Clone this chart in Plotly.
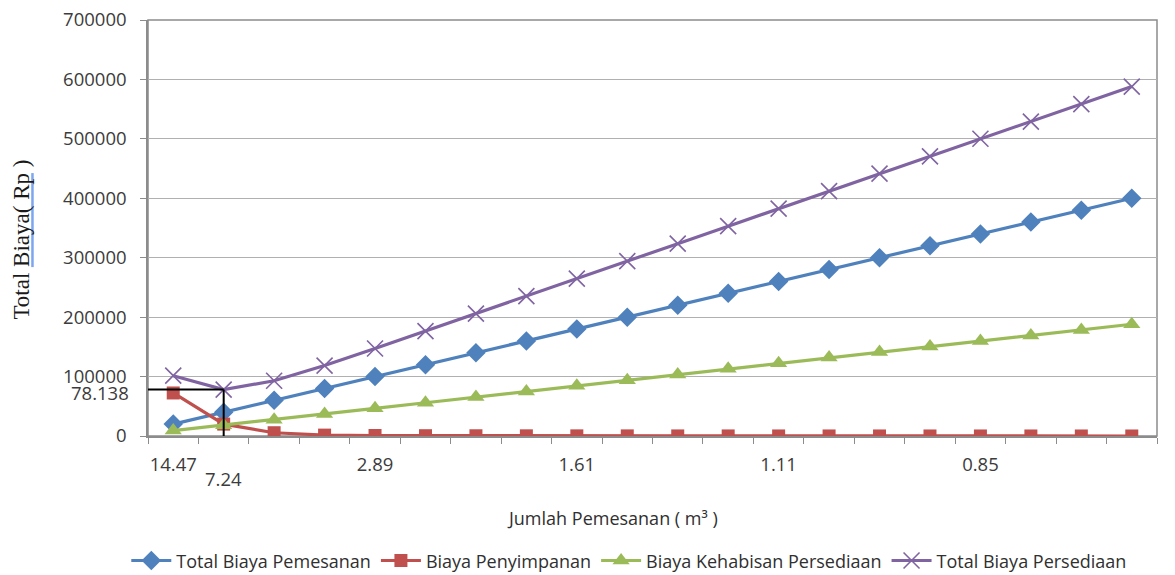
import plotly.graph_objects as go

# Order quantity per cycle (m3), one category per number of orders
categories = ["14.47", "7.24", "4.82", "3.62", "2.89", "2.41", "2.07", "1.81", "1.61", "1.45",
              "1.32", "1.21", "1.11", "1.03", "0.96", "0.90", "0.85", "0.80", "0.76", "0.72"]
# Only these quantities get a label on the axis
labelled = ["14.47", "2.89", "1.61", "1.11", "0.85"]

biaya_pemesanan = [20000, 40000, 60000, 80000, 100000, 120000, 140000, 160000, 180000, 200000,
                   220000, 240000, 260000, 280000, 300000, 320000, 340000, 360000, 380000, 400000]
biaya_penyimpanan = [72400, 20000, 5500, 1500, 800, 500, 400, 300, 250, 200,
                     150, 120, 100, 90, 80, 70, 60, 50, 45, 40]
biaya_kehabisan = [9100, 18138, 27500, 37000, 46500, 56000, 65500, 75000, 84500, 94000,
                   103500, 113000, 122500, 132000, 141500, 150500, 160000, 169000, 178500, 188000]
total_persediaan = [101500, 78138, 93000, 118500, 147300, 176500, 205900, 235300, 264750, 294200,
                    323650, 353100, 382600, 412100, 441600, 470600, 500100, 529000, 558500, 588000]

optimum_q = "7.24"
optimum_cost = 78138
optimum_label = "78.138"

SANS = "Open Sans, Noto Sans, sans-serif"
TICK_FONT = dict(family=SANS, size=18.5, color="#3c3c3c")

series = [
    ("Total Biaya Pemesanan", biaya_pemesanan, "#4F81BD", dict(symbol="diamond", size=15)),
    ("Biaya Penyimpanan", biaya_penyimpanan, "#C0504D", dict(symbol="square", size=13)),
    ("Biaya Kehabisan Persediaan", biaya_kehabisan, "#9BBB59", dict(symbol="triangle-up", size=15)),
    ("Total Biaya Persediaan", total_persediaan, "#8064A2",
     dict(symbol="x-thin-open", size=16, line=dict(width=1.6))),
]

fig = go.Figure()
for name, values, color, marker in series:
    mk = dict(color=color, **marker)
    if "line" in mk:
        mk["line"] = dict(color=color, **mk["line"])
    fig.add_trace(go.Scatter(x=categories, y=values, name=name, mode="lines+markers",
                             line=dict(color=color, width=3.2), marker=mk))

opt_idx = categories.index(optimum_q)
# Guide lines to the minimum total cost
fig.add_shape(type="line", xref="x", yref="y", x0=-0.5, x1=opt_idx, y0=optimum_cost, y1=optimum_cost,
              line=dict(color="black", width=2))
fig.add_shape(type="line", xref="x", yref="y", x0=opt_idx, x1=opt_idx, y0=optimum_cost, y1=0,
              line=dict(color="black", width=2))

# Plot-area frame (top and right edges)
fig.add_shape(type="rect", xref="paper", yref="paper", x0=0, x1=1, y0=0, y1=1,
              line=dict(color="#8c8c8c", width=1.5), layer="below")

fig.add_annotation(text=optimum_label, xref="paper", yref="y", x=0, y=optimum_cost,
                   xanchor="right", yanchor="middle", xshift=-17, yshift=-3, showarrow=False,
                   font=TICK_FONT)
fig.add_annotation(text=optimum_q, xref="x", yref="paper", x=opt_idx, y=0,
                   xanchor="center", yanchor="middle", yshift=-42, showarrow=False,
                   font=TICK_FONT)

# Axis titles
fig.add_annotation(text="Total Biaya( Rp )", xref="paper", yref="paper", x=-0.1255, y=0.473,
                   textangle=-90, showarrow=False, xanchor="center", yanchor="middle",
                   font=dict(family="Liberation Serif, Times New Roman, serif", size=23, color="#1a1a1a"))
fig.add_shape(type="line", xref="paper", yref="paper", x0=-0.1145, x1=-0.1145, y0=0.406, y1=0.632,
              line=dict(color="#7EA6EE", width=2.5))
fig.add_annotation(text="Jumlah Pemesanan ( m³ )", xref="paper", yref="paper", x=0.46, y=-0.197,
                   showarrow=False, xanchor="center", yanchor="middle",
                   font=dict(family=SANS, size=18, color="#303030"))

fig.update_xaxes(
    type="category", categoryorder="array", categoryarray=categories, range=[-0.5, len(categories) - 0.5],
    tickmode="array", tickvals=categories, ticktext=[c if c in labelled else "" for c in categories],
    tickson="boundaries", ticks="outside", ticklen=6, tickcolor="#8c8c8c", tickangle=0,
    showline=True, linecolor="#8c8c8c", linewidth=1.5, showgrid=False, zeroline=False,
    tickfont=TICK_FONT, ticklabelstandoff=11,
)
fig.update_yaxes(
    range=[0, 700000], dtick=100000, tickformat="d", ticks="outside", ticklen=6, tickcolor="#8c8c8c",
    showline=True, linecolor="#8c8c8c", linewidth=1.5, showgrid=True, gridcolor="#b0b0b0", gridwidth=1.4,
    zeroline=False, tickfont=TICK_FONT, ticklabelstandoff=10,
)

fig.update_layout(
    width=1175, height=575, autosize=False,
    margin=dict(l=148, r=18, t=20, b=139, autoexpand=False),
    paper_bgcolor="white", plot_bgcolor="white",
    showlegend=True,
    legend=dict(orientation="h", x=0.477, xanchor="center", y=-0.30, yanchor="middle",
                font=dict(family=SANS, size=18, color="#303030"),
                itemwidth=40, tracegroupgap=0),
)

fig.write_html("out.html")
